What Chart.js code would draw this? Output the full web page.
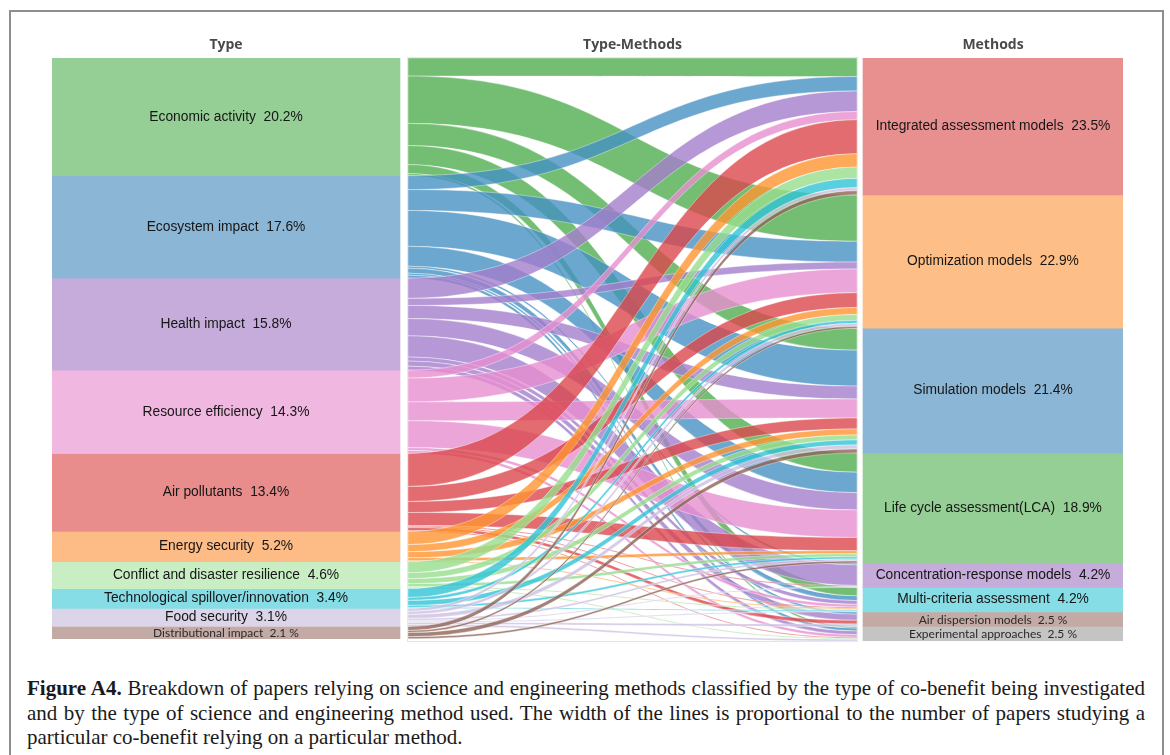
<!DOCTYPE html>
<html>
<head>
<meta charset="utf-8">
<title>Figure A4</title>
<script src="https://cdn.jsdelivr.net/npm/chart.js@4.4.1/dist/chart.umd.min.js"></script>
<style>
  html, body { margin: 0; padding: 0; background: #fff; overflow: hidden; }
  #frame { position: absolute; left: 9px; top: 10px; width: 1151px; height: 760px; border: 2px solid #8e8e8e; border-bottom: none; }
  #wrap { position: absolute; left: 0; top: 0; width: 1170px; height: 655px; }
  #caption { position: absolute; left: 27px; top: 676px; width: 1118px; font-family: 'Liberation Serif', serif; font-size: 21px; line-height: 24.5px; color: #1a1a1a; }
  #caption div { white-space: nowrap; text-align: justify; text-align-last: justify; }
  #caption div.last { text-align-last: left; }
</style>
</head>
<body>
<div id="frame"></div>
<div id="wrap"><canvas id="sankey"></canvas></div>
<div id="caption">
  <div><b>Figure A4.</b> Breakdown of papers relying on science and engineering methods classified by the type of co-benefit being investigated</div>
  <div>and by the type of science and engineering method used. The width of the lines is proportional to the number of papers studying a</div>
  <div class="last">particular co-benefit relying on a particular method.</div>
</div>
<script>
// column headers
const headers = ["Type", "Type-Methods", "Methods"];

// left column: type of co-benefit
const types = ["Economic activity", "Ecosystem impact", "Health impact", "Resource efficiency", "Air pollutants",
  "Energy security", "Conflict and disaster resilience", "Technological spillover/innovation", "Food security", "Distributional impact"];
const typePct = [20.2, 17.6, 15.8, 14.3, 13.4, 5.2, 4.6, 3.4, 3.1, 2.1];

// right column: methods
const methods = ["Integrated assessment models", "Optimization models", "Simulation models", "Life cycle assessment(LCA)",
  "Concentration-response models", "Multi-criteria assessment", "Air dispersion models", "Experimental approaches"];
const methodPct = [23.5, 22.9, 21.4, 18.9, 4.2, 4.2, 2.5, 2.5];

// ribbon weights, one row per type, one column per method
const econFlows     = [18, 47, 22, 19, 0, 9, 0, 2];
const ecoFlows      = [14, 21, 36, 20, 2, 5, 2, 3];
const healthFlows   = [20, 7, 13, 17, 21, 4, 5, 4];
const resourceFlows = [8, 24, 19, 27, 0, 3, 0, 3];
const airFlows      = [33, 15, 11, 13, 1, 1, 3, 1];
const energyFlows   = [13, 7, 6, 3, 0, 1, 0, 0];
const conflictFlows = [11, 6, 5, 3, 0, 1, 0, 1];
const techFlows     = [9, 3, 5, 2, 0, 1, 0, 0];
const foodFlows     = [3, 3, 4, 2, 1, 1, 2, 2];
const distFlows     = [4, 2, 4, 2, 0, 0, 0, 0];
const flows = [econFlows, ecoFlows, healthFlows, resourceFlows, airFlows, energyFlows, conflictFlows, techFlows, foodFlows, distFlows];

// colours
const typeColors = ["#95cf95", "#8bb6d6", "#c6acdb", "#f0b7e0", "#e88c8c", "#fdbb85", "#c9eec4", "#87dde6", "#dcd4e8", "#c4aaa4"];
const flowColors = ["rgba(81,174,81,0.8)", "rgba(70,145,195,0.8)", "rgba(164,126,204,0.8)", "rgba(231,143,207,0.8)",
  "rgba(219,71,76,0.8)", "rgba(255,149,49,0.8)", "rgba(151,221,141,0.8)", "rgba(49,196,214,0.8)",
  "rgba(204,191,226,0.8)", "rgba(143,99,86,0.8)"];
const methodColors = ["#e88f8f", "#fdbf87", "#8bb6d6", "#95cf95", "#c6acdb", "#87dde6", "#c4aaa4", "#c4c4c4"];

// x position of the three columns on the (hidden) linear axis
const colX = [0, 1.06, 2];

const datasets = [];
types.forEach((t, i) => datasets.push({
  label: t,
  data: [{ x: colX[0], y: typePct[i] }],
  backgroundColor: typeColors[i],
  barThickness: 348,
  stack: "type"
}));
methods.forEach((m, j) => datasets.push({
  label: m,
  data: [{ x: colX[2], y: methodPct[j] }],
  backgroundColor: methodColors[j],
  barThickness: 260,
  stack: "method"
}));

const sum = a => a.reduce((s, v) => s + v, 0);

// ribbons between the two columns, plus the column headers
const ribbons = {
  id: "ribbons",
  beforeDatasetsDraw(chart) {
    const { ctx, chartArea, scales: { x, y } } = chart;
    const leftEl = chart.getDatasetMeta(0).data[0];
    const rightEl = chart.getDatasetMeta(types.length).data[0];
    const x0 = leftEl.x + leftEl.width / 2 + 8;
    const x1 = rightEl.x - rightEl.width / 2 - 6;
    const xm = (x0 + x1) / 2;

    const rowSum = flows.map(sum);
    const colSum = methods.map((m, j) => sum(flows.map(r => r[j])));

    // start of each ribbon on the left (by type, then method) and the right (by method, then type)
    const left = [], right = [];
    let cum = 0;
    types.forEach((t, i) => {
      left[i] = [];
      methods.forEach((m, j) => {
        const h = flows[i][j] / rowSum[i] * typePct[i];
        left[i][j] = [cum, cum + h];
        cum += h;
      });
    });
    cum = 0;
    methods.forEach((m, j) => {
      types.forEach((t, i) => {
        right[i] = right[i] || [];
        const h = colSum[j] ? flows[i][j] / colSum[j] * methodPct[j] : 0;
        right[i][j] = [cum, cum + h];
        cum += h;
      });
    });

    ctx.save();
    // headers
    ctx.textAlign = "center";
    ctx.textBaseline = "middle";
    ctx.fillStyle = "#4a4a4a";
    ctx.font = "bold 14px 'Open Sans', sans-serif";
    headers.forEach((h, k) => ctx.fillText(h, x.getPixelForValue(colX[k]), chartArea.top - 13));

    // faint panel outline
    ctx.strokeStyle = "#e4e4e4";
    ctx.lineWidth = 1;
    ctx.strokeRect(x0 - 0.5, chartArea.top - 0.5, x1 - x0 + 1, chartArea.bottom - chartArea.top + 1);

    types.forEach((t, i) => {
      methods.forEach((m, j) => {
        if (!flows[i][j]) return;
        const ly0 = y.getPixelForValue(left[i][j][0]), ly1 = y.getPixelForValue(left[i][j][1]);
        const ry0 = y.getPixelForValue(right[i][j][0]), ry1 = y.getPixelForValue(right[i][j][1]);
        ctx.beginPath();
        ctx.moveTo(x0, ly0);
        ctx.bezierCurveTo(xm, ly0, xm, ry0, x1, ry0);
        ctx.lineTo(x1, ry1);
        ctx.bezierCurveTo(xm, ry1, xm, ly1, x0, ly1);
        ctx.closePath();
        ctx.fillStyle = flowColors[i];
        ctx.fill();
        ctx.strokeStyle = "rgba(255,255,255,0.55)";
        ctx.lineWidth = 0.7;
        ctx.stroke();
      });
    });
    ctx.restore();
  }
};

// name and share written in each block
const blockLabels = {
  id: "blockLabels",
  afterDatasetsDraw(chart) {
    const ctx = chart.ctx;
    ctx.save();
    ctx.textAlign = "center";
    ctx.textBaseline = "middle";
    chart.data.datasets.forEach((ds, k) => {
      const el = chart.getDatasetMeta(k).data[0];
      const h = Math.abs(el.base - el.y);
      const cy = (el.base + el.y) / 2;
      const pct = ds.data[0].y;
      if (h < 16) {
        ctx.font = "12px Lato, 'Open Sans', sans-serif";
        ctx.fillStyle = "#2a2a2a";
        ctx.fillText(ds.label + "  " + pct + " %", el.x, cy + 0.5);
      } else {
        ctx.font = "13.8px 'Liberation Sans', Arial, sans-serif";
        ctx.fillStyle = "#161616";
        ctx.fillText(ds.label + "  " + pct.toFixed(1) + "%", el.x, cy);
      }
    });
    ctx.restore();
  }
};

new Chart(document.getElementById("sankey"), {
  type: "bar",
  data: { datasets: datasets },
  options: {
    responsive: true,
    maintainAspectRatio: false,
    animation: false,
    events: [],
    datasets: { bar: { grouped: false } },
    layout: { padding: { left: 52, right: 47, top: 58, bottom: 14 } },
    plugins: {
      legend: { display: false },
      tooltip: { enabled: false }
    },
    scales: {
      x: {
        type: "linear",
        display: false,
        offset: false,
        min: -0.4537,
        max: 2.339
      },
      y: {
        display: false,
        stacked: true,
        reverse: true,
        min: 0,
        max: 100.1
      }
    }
  },
  plugins: [ribbons, blockLabels]
});
</script>
</body>
</html>
